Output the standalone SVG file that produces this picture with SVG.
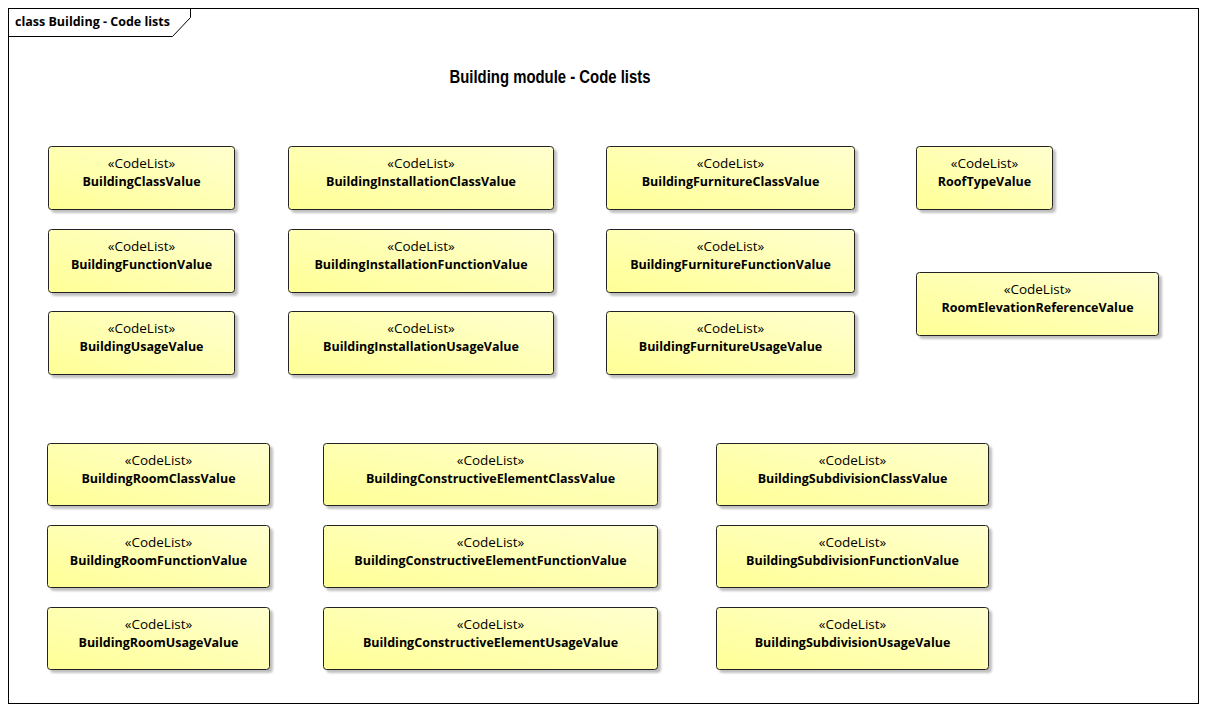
<svg xmlns="http://www.w3.org/2000/svg" width="1206" height="711" viewBox="0 0 1206 711">
<defs>
<linearGradient id="yg" x1="0" y1="1" x2="1" y2="0">
<stop offset="0" stop-color="#FFFF96"/>
<stop offset="1" stop-color="#FFFFD0"/>
</linearGradient>
<filter id="sh" x="-5%" y="-5%" width="115%" height="130%">
<feGaussianBlur in="SourceAlpha" stdDeviation="1.2"/>
<feOffset dx="3" dy="3" result="b"/>
<feComponentTransfer><feFuncA type="linear" slope="0.25"/></feComponentTransfer>
<feMerge><feMergeNode/><feMergeNode in="SourceGraphic"/></feMerge>
</filter>
</defs>
<style>
.box{fill:url(#yg);stroke:#222;stroke-width:1;filter:url(#sh)}
.st{font-family:"Open Sans","DejaVu Sans",sans-serif;font-size:13.5px;fill:#000;text-anchor:middle}
.nm{font-family:"Open Sans","DejaVu Sans",sans-serif;font-size:12.5px;font-weight:bold;fill:#000;text-anchor:middle}
.frame{fill:none;stroke:#000;stroke-width:1}
</style>
<rect width="1206" height="711" fill="#fff"/>
<g id="frame">
<rect class="frame" x="8.5" y="8.5" width="1190" height="695"/>
<path class="frame" d="M8.5 36.5 H172.5 L190.5 17.5 V8.5"/>
<text x="15" y="26" font-family="'Open Sans','DejaVu Sans',sans-serif" font-size="12.5" font-weight="bold">class Building - Code lists</text>
</g>
<g id="title">
<text x="550" y="82.5" font-family="'Liberation Sans',Arial,sans-serif" font-size="18" font-weight="bold" text-anchor="middle" textLength="201" lengthAdjust="spacingAndGlyphs">Building module - Code lists</text>
</g>
<g id="connectors"></g>

<g id="BuildingClassValue"><rect class="box" x="48.5" y="146.5" width="186" height="63" rx="3"/><text class="st" x="141.5" y="168">«CodeList»</text><text class="nm" x="141.5" y="186">BuildingClassValue</text></g>
<g id="BuildingFunctionValue"><rect class="box" x="48.5" y="229.5" width="186" height="63" rx="3"/><text class="st" x="141.5" y="251">«CodeList»</text><text class="nm" x="141.5" y="269">BuildingFunctionValue</text></g>
<g id="BuildingUsageValue"><rect class="box" x="48.5" y="311.5" width="186" height="63" rx="3"/><text class="st" x="141.5" y="333">«CodeList»</text><text class="nm" x="141.5" y="351">BuildingUsageValue</text></g>

<g id="BuildingInstallationClassValue"><rect class="box" x="288.5" y="146.5" width="265" height="63" rx="3"/><text class="st" x="421" y="168">«CodeList»</text><text class="nm" x="421" y="186">BuildingInstallationClassValue</text></g>
<g id="BuildingInstallationFunctionValue"><rect class="box" x="288.5" y="229.5" width="265" height="63" rx="3"/><text class="st" x="421" y="251">«CodeList»</text><text class="nm" x="421" y="269">BuildingInstallationFunctionValue</text></g>
<g id="BuildingInstallationUsageValue"><rect class="box" x="288.5" y="311.5" width="265" height="63" rx="3"/><text class="st" x="421" y="333">«CodeList»</text><text class="nm" x="421" y="351">BuildingInstallationUsageValue</text></g>

<g id="BuildingFurnitureClassValue"><rect class="box" x="606.5" y="146.5" width="248" height="63" rx="3"/><text class="st" x="730.5" y="168">«CodeList»</text><text class="nm" x="730.5" y="186">BuildingFurnitureClassValue</text></g>
<g id="BuildingFurnitureFunctionValue"><rect class="box" x="606.5" y="229.5" width="248" height="63" rx="3"/><text class="st" x="730.5" y="251">«CodeList»</text><text class="nm" x="730.5" y="269">BuildingFurnitureFunctionValue</text></g>
<g id="BuildingFurnitureUsageValue"><rect class="box" x="606.5" y="311.5" width="248" height="63" rx="3"/><text class="st" x="730.5" y="333">«CodeList»</text><text class="nm" x="730.5" y="351">BuildingFurnitureUsageValue</text></g>

<g id="RoofTypeValue"><rect class="box" x="916.5" y="146.5" width="136" height="63" rx="3"/><text class="st" x="984.5" y="168">«CodeList»</text><text class="nm" x="984.5" y="186">RoofTypeValue</text></g>
<g id="RoomElevationReferenceValue"><rect class="box" x="916.5" y="272.5" width="242" height="63" rx="3"/><text class="st" x="1037.5" y="294">«CodeList»</text><text class="nm" x="1037.5" y="312">RoomElevationReferenceValue</text></g>

<g id="BuildingRoomClassValue"><rect class="box" x="47.5" y="443.5" width="222" height="62" rx="3"/><text class="st" x="158.5" y="465">«CodeList»</text><text class="nm" x="158.5" y="482.5">BuildingRoomClassValue</text></g>
<g id="BuildingRoomFunctionValue"><rect class="box" x="47.5" y="525.5" width="222" height="62" rx="3"/><text class="st" x="158.5" y="547">«CodeList»</text><text class="nm" x="158.5" y="564.5">BuildingRoomFunctionValue</text></g>
<g id="BuildingRoomUsageValue"><rect class="box" x="47.5" y="607.5" width="222" height="62" rx="3"/><text class="st" x="158.5" y="629">«CodeList»</text><text class="nm" x="158.5" y="646.5">BuildingRoomUsageValue</text></g>

<g id="BuildingConstructiveElementClassValue"><rect class="box" x="323.5" y="443.5" width="334" height="62" rx="3"/><text class="st" x="490.5" y="465">«CodeList»</text><text class="nm" x="490.5" y="482.5">BuildingConstructiveElementClassValue</text></g>
<g id="BuildingConstructiveElementFunctionValue"><rect class="box" x="323.5" y="525.5" width="334" height="62" rx="3"/><text class="st" x="490.5" y="547">«CodeList»</text><text class="nm" x="490.5" y="564.5">BuildingConstructiveElementFunctionValue</text></g>
<g id="BuildingConstructiveElementUsageValue"><rect class="box" x="323.5" y="607.5" width="334" height="62" rx="3"/><text class="st" x="490.5" y="629">«CodeList»</text><text class="nm" x="490.5" y="646.5">BuildingConstructiveElementUsageValue</text></g>

<g id="BuildingSubdivisionClassValue"><rect class="box" x="716.5" y="443.5" width="272" height="62" rx="3"/><text class="st" x="852.5" y="465">«CodeList»</text><text class="nm" x="852.5" y="482.5">BuildingSubdivisionClassValue</text></g>
<g id="BuildingSubdivisionFunctionValue"><rect class="box" x="716.5" y="525.5" width="272" height="62" rx="3"/><text class="st" x="852.5" y="547">«CodeList»</text><text class="nm" x="852.5" y="564.5">BuildingSubdivisionFunctionValue</text></g>
<g id="BuildingSubdivisionUsageValue"><rect class="box" x="716.5" y="607.5" width="272" height="62" rx="3"/><text class="st" x="852.5" y="629">«CodeList»</text><text class="nm" x="852.5" y="646.5">BuildingSubdivisionUsageValue</text></g>
</svg>
